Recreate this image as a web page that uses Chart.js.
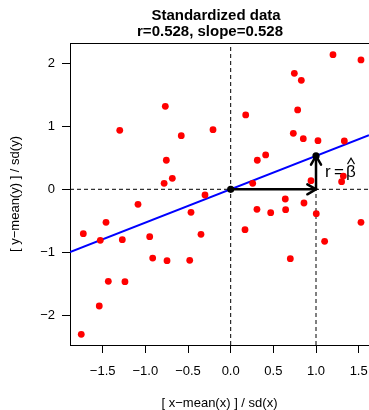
<!DOCTYPE html>
<html>
<head>
<meta charset="utf-8">
<script src="https://cdn.jsdelivr.net/npm/chart.js@4.4.1/dist/chart.umd.min.js"></script>
<style>
  html, body { margin: 0; padding: 0; background: #fff; }
</style>
</head>
<body>
<canvas id="chart" width="369" height="410"></canvas>
<script>
// standardized data
const xValues = [-1.30, -0.766, -0.579, -0.754, -0.684, -0.78, -0.207, 0.176, 1.199, 1.527,
  0.746, 0.828, 0.785, 0.734, 0.851, 1.023, 1.332, 0.312, 0.41, 0.258,
  0.941, 1.32, 1.30, -1.727, -1.528, -1.461, -1.270, -1.086, -0.949, -0.914,
  -0.746, -0.48, -0.348, -0.465, -0.301, -1.434, -1.239, -1.54, -1.751, 0.308,
  0.469, 0.64, 0.644, 0.859, 1.003, 1.527, 0.168, 1.101, 0.699];
const yValues = [0.935, 1.315, 0.85, 0.46, 0.174, 0.095, 0.945, 1.178, 2.133, 2.05,
  1.838, 1.727, 1.257, 0.887, 0.802, 0.77, 0.765, 0.46, 0.544, 0.095,
  0.137, 0.21, 0.12, -0.703, -0.808, -0.523, -0.798, -0.238, -0.751, -1.089,
  -1.131, -1.125, -0.713, -0.365, -0.09, -1.458, -1.464, -1.849, -2.298, -0.317,
  -0.37, -0.154, -0.323, -0.217, -0.386, -0.523, -0.64, -0.824, -1.10];

const xTicks = [-1.5, -1.0, -0.5, 0.0, 0.5, 1.0, 1.5];
const xTickLabels = ['\u22121.5', '\u22121.0', '\u22120.5', '0.0', '0.5', '1.0', '1.5'];
const yTicks = [-2, -1, 0, 1, 2];
const yTickLabels = ['\u22122', '\u22121', '0', '1', '2'];
const xLimits = [-1.883, 1.621];
const yLimits = [-2.467, 2.318];

const slope = 0.528;
const fitX = [-1.883, 1.621];
const fitY = [-0.994, 0.856];

const titleLines = ['Standardized data', 'r=0.528, slope=0.528'];
const xTitle = '[ x\u2212mean(x) ] / sd(x)';
const yTitle = '[ y\u2212mean(y) ] / sd(y)';

const FONT = '"Liberation Sans", Arial, Helvetica, sans-serif';

function pts(xs, ys) {
  return xs.map((x, i) => ({ x: x, y: ys[i] }));
}

function arrowHead(ctx, x0, y0, x1, y1) {
  const ang = Math.atan2(y1 - y0, x1 - x0);
  const len = 10, spread = Math.PI / 6;
  ctx.beginPath();
  ctx.moveTo(x1 - len * Math.cos(ang - spread), y1 - len * Math.sin(ang - spread));
  ctx.lineTo(x1, y1);
  ctx.lineTo(x1 - len * Math.cos(ang + spread), y1 - len * Math.sin(ang + spread));
  ctx.stroke();
}

const decor = {
  id: 'decor',
  beforeDatasetsDraw(chart) {
    const ctx = chart.ctx;
    const xs = chart.scales.x, ys = chart.scales.y;
    const px = xs.getPixelForValue(1);
    const py = ys.getPixelForValue(slope / 2);
    ctx.save();
    ctx.fillStyle = '#000';
    ctx.textBaseline = 'alphabetic';
    ctx.textAlign = 'left';
    ctx.font = '17px ' + FONT;
    ctx.fillText('r', px + 9, py + 4.5);
    ctx.fillText('=', px + 18, py + 4.5);
    ctx.fillText('\u03b2', px + 30, py + 4.5);
    // hat over beta
    ctx.strokeStyle = '#000';
    ctx.lineWidth = 1.1;
    ctx.beginPath();
    ctx.moveTo(px + 31.5, py - 8.5);
    ctx.lineTo(px + 35, py - 14.5);
    ctx.lineTo(px + 38.5, py - 8.5);
    ctx.stroke();
    ctx.restore();
  },
  afterDatasetsDraw(chart) {
    const ctx = chart.ctx;
    const xs = chart.scales.x, ys = chart.scales.y;
    const a = chart.chartArea;
    ctx.save();
    ctx.strokeStyle = '#000';
    ctx.lineWidth = 2.5;
    ctx.lineCap = 'round';
    arrowHead(ctx, xs.getPixelForValue(0), ys.getPixelForValue(0), xs.getPixelForValue(1), ys.getPixelForValue(0));
    arrowHead(ctx, xs.getPixelForValue(1), ys.getPixelForValue(0), xs.getPixelForValue(1), ys.getPixelForValue(slope));
    // box top
    ctx.lineWidth = 1;
    ctx.lineCap = 'butt';
    ctx.beginPath();
    ctx.moveTo(a.left, Math.round(a.top) + 0.5);
    ctx.lineTo(a.right + 2, Math.round(a.top) + 0.5);
    ctx.stroke();
    ctx.restore();
  },
  afterDraw(chart) {
    const ctx = chart.ctx;
    ctx.save();
    ctx.fillStyle = '#000';
    ctx.font = 'bold 15px ' + FONT;
    ctx.textAlign = 'center';
    ctx.textBaseline = 'alphabetic';
    ctx.fillText(titleLines[0], 216, 20);
    ctx.fillText(titleLines[1], 210, 36);
    ctx.restore();
  }
};

new Chart(document.getElementById('chart'), {
  type: 'scatter',
  data: {
    datasets: [
      {
        data: pts(xValues, yValues),
        backgroundColor: '#ff0000',
        borderWidth: 0,
        pointRadius: 3.4,
        order: 0
      },
      {
        data: pts(fitX, fitY),
        showLine: true,
        borderColor: '#0000ff',
        borderWidth: 2,
        pointRadius: 0,
        order: 2
      },
      {
        data: [{ x: 0, y: yLimits[0] }, { x: 0, y: yLimits[1] }],
        showLine: true,
        borderColor: '#000',
        borderWidth: 1,
        borderDash: [4, 3],
        pointRadius: 0,
        order: 3
      },
      {
        data: [{ x: xLimits[0], y: 0 }, { x: xLimits[1], y: 0 }],
        showLine: true,
        borderColor: '#000',
        borderWidth: 1,
        borderDash: [4, 3],
        pointRadius: 0,
        order: 3
      },
      {
        data: [{ x: 1, y: yLimits[0] }, { x: 1, y: 0 }],
        showLine: true,
        borderColor: '#000',
        borderWidth: 1,
        borderDash: [4, 3],
        pointRadius: 0,
        order: 3
      },
      {
        data: [{ x: 0, y: 0 }, { x: 1, y: 0 }],
        showLine: true,
        borderColor: '#000',
        borderWidth: 2.5,
        pointRadius: 0,
        order: 1
      },
      {
        data: [{ x: 1, y: 0 }, { x: 1, y: slope }],
        showLine: true,
        borderColor: '#000',
        borderWidth: 2.5,
        pointRadius: 0,
        order: 1
      },
      {
        data: [{ x: 0, y: 0 }, { x: 1, y: slope }],
        backgroundColor: '#000',
        borderWidth: 0,
        pointRadius: 3.6,
        order: 1
      }
    ]
  },
  options: {
    responsive: false,
    animation: false,
    layout: { autoPadding: false, padding: { left: 0, top: 43, right: 0, bottom: 0 } },
    plugins: {
      legend: { display: false },
      tooltip: { enabled: false },
      title: { display: false }
    },
    scales: {
      x: {
        type: 'linear',
        min: xLimits[0],
        max: xLimits[1],
        afterBuildTicks: s => { s.ticks = xTicks.map(v => ({ value: v })); },
        afterFit: s => { s.height = 65; s.paddingLeft = 0; s.paddingRight = 0; },
        grid: { drawOnChartArea: false, drawTicks: true, tickLength: 8, color: '#000', lineWidth: 1 },
        border: { display: true, color: '#000', width: 1 },
        ticks: {
          color: '#000',
          font: { family: FONT, size: 13 },
          padding: 11,
          maxRotation: 0,
          autoSkip: false,
          callback: v => xTickLabels[xTicks.indexOf(v)]
        },
        title: {
          display: true,
          text: xTitle,
          color: '#000',
          font: { family: FONT, size: 13, lineHeight: 1.0 },
          padding: { top: 0, bottom: 0 }
        }
      },
      y: {
        type: 'linear',
        min: yLimits[0],
        max: yLimits[1],
        afterBuildTicks: s => { s.ticks = yTicks.map(v => ({ value: v })); },
        afterFit: s => { s.width = 70; s.paddingTop = 0; s.paddingBottom = 0; },
        grid: { drawOnChartArea: false, drawTicks: true, tickLength: 8, color: '#000', lineWidth: 1 },
        border: { display: true, color: '#000', width: 1 },
        ticks: {
          color: '#000',
          font: { family: FONT, size: 13 },
          padding: 7,
          autoSkip: false,
          callback: v => yTickLabels[yTicks.indexOf(v)]
        },
        title: {
          display: true,
          text: yTitle,
          color: '#000',
          font: { family: FONT, size: 13 },
          padding: { top: 8, bottom: 0 }
        }
      }
    }
  },
  plugins: [decor]
});
</script>
</body>
</html>
